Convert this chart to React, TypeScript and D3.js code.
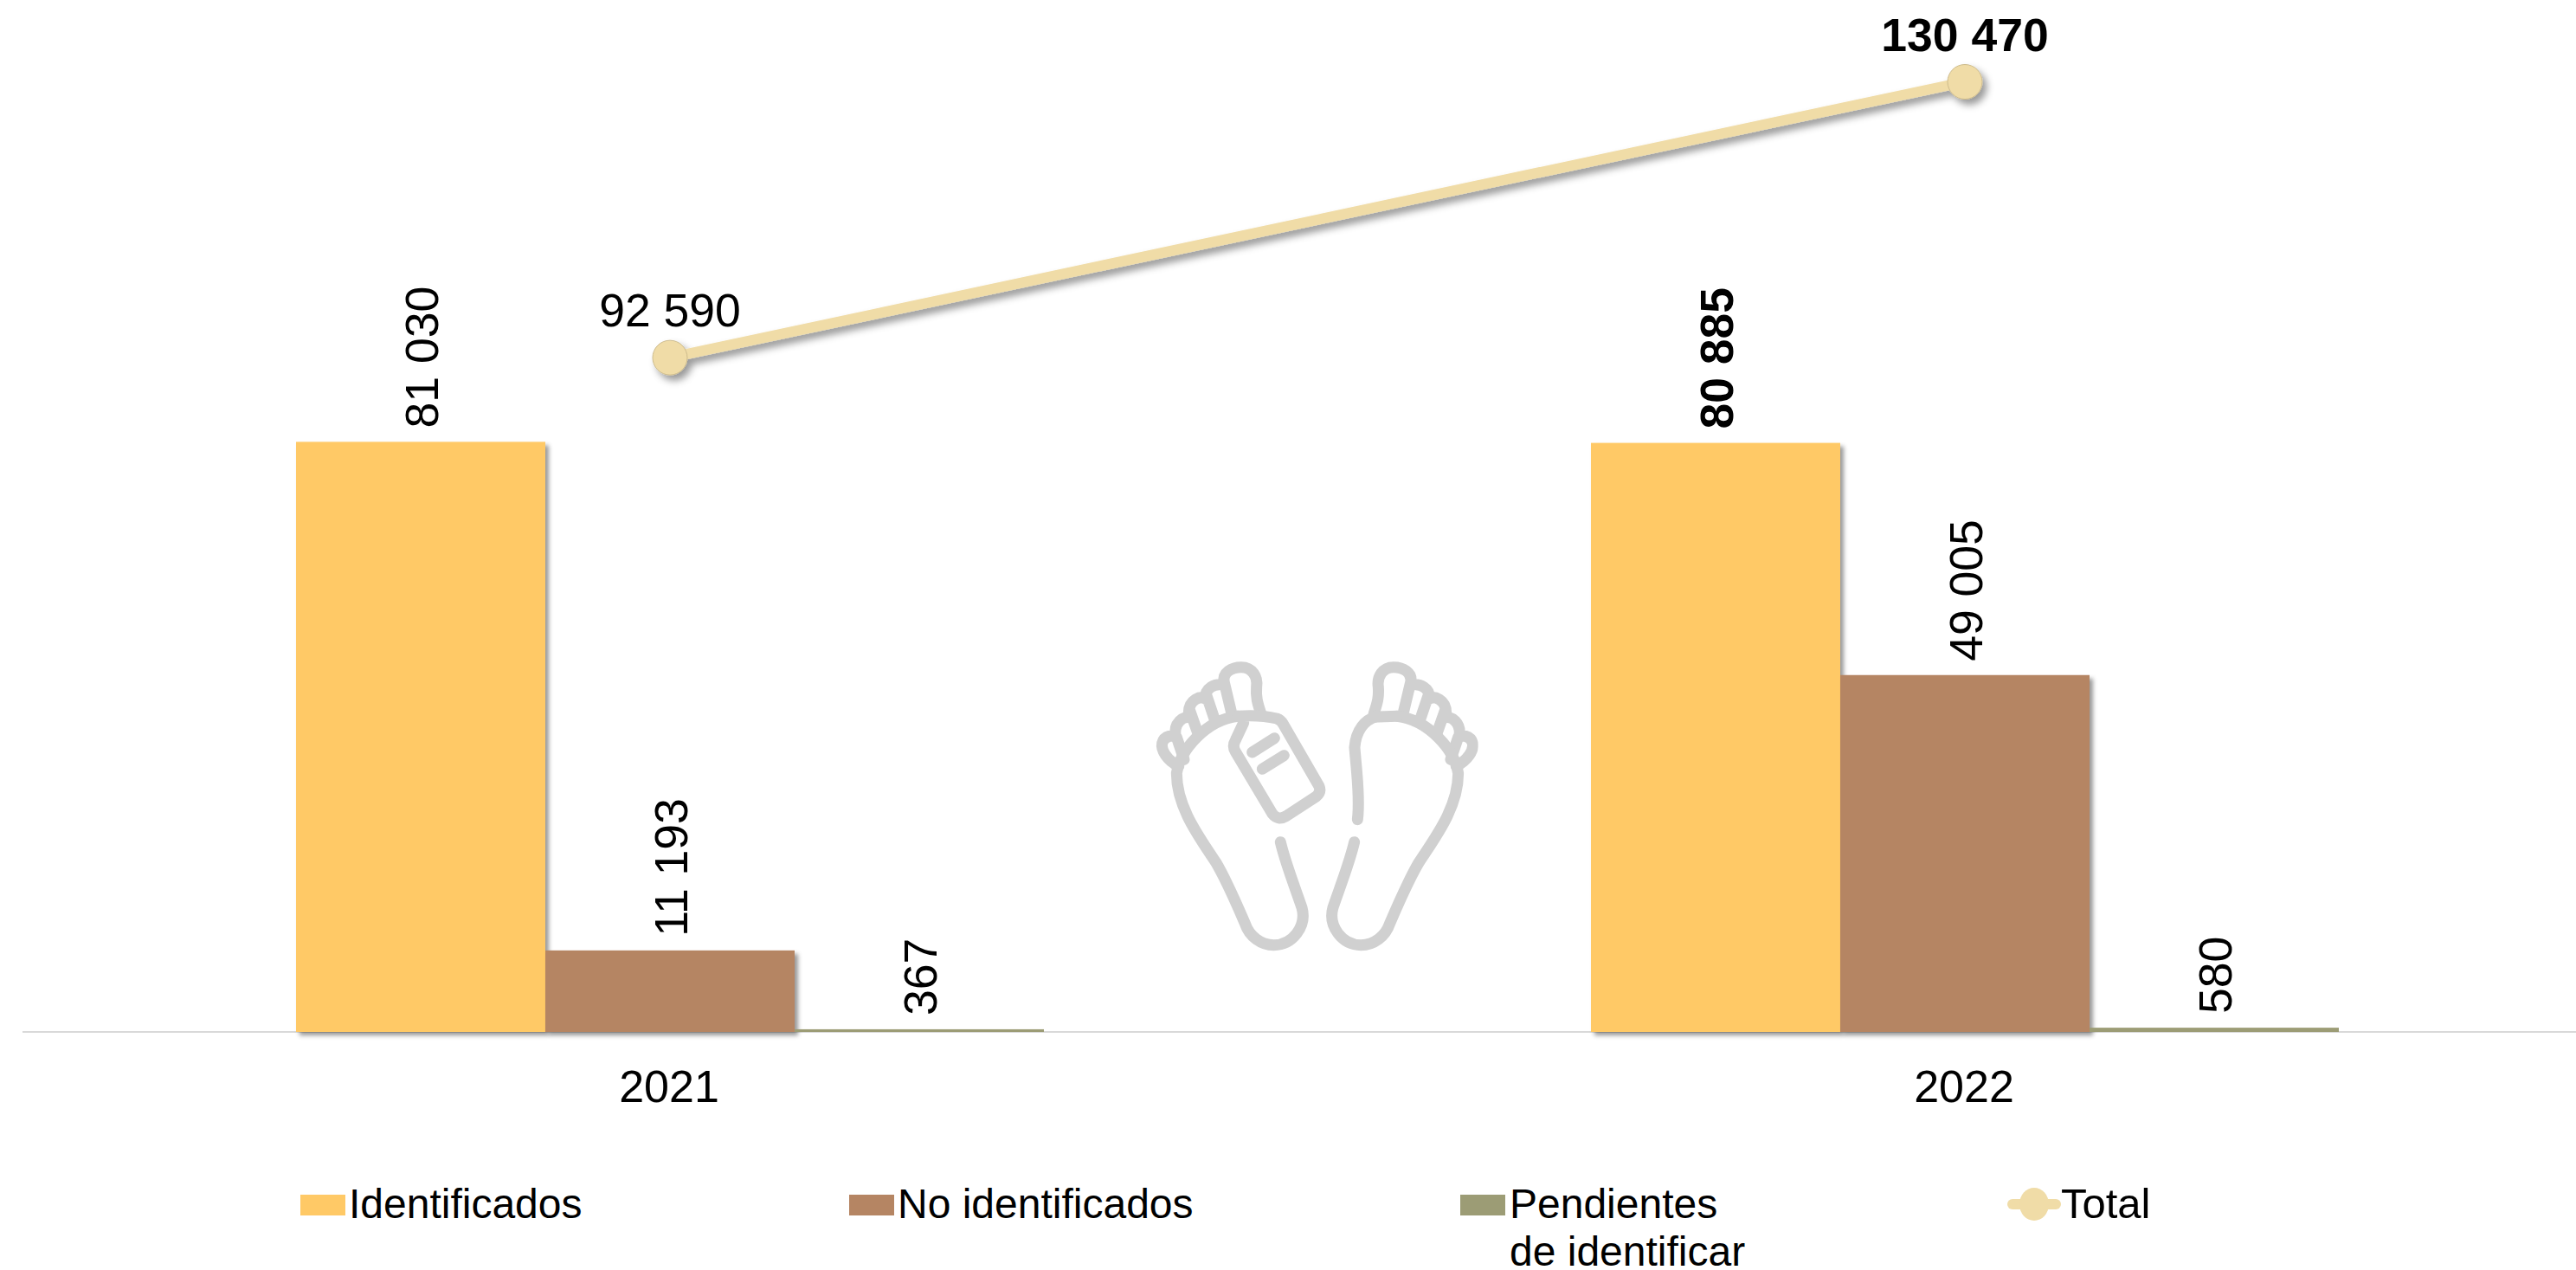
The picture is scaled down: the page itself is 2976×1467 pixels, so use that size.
import React from "react";
import * as d3 from "d3";

const categories = ["2021", "2022"];
const seriesNames = ["Identificados", "No identificados", "Pendientes de identificar"];
const identificados = [81030, 80885];
const noIdentificados = [11193, 49005];
const pendientes = [367, 580];
const total = [92590, 130470];
const seriesValues = [identificados, noIdentificados, pendientes];
const seriesColors = ["#FFC966", "#B58563", "#9C9C75"];
const lineColor = "#F0DCA7";
const boldLabels = ["80885", "130470"];

const W = 2976;
const H = 1467;
const FONT = "'Liberation Sans', Arial, sans-serif";
const fmt = (v: number) => String(v).replace(/\B(?=(\d{3})+$)/g, " ");
const isBold = (v: number) => boldLabels.includes(String(v));

const x0 = d3.scaleBand<string>().domain(categories).range([26, 3018]);
const x1 = d3.scaleBand<string>().domain(seriesNames).range([-432, 432]);
const y = d3.scaleLinear().domain([0, 130470]).range([1192, 94.5]);
const cx = (c: string) => (x0(c) as number) + x0.bandwidth() / 2;

const lineGen = d3
  .line<number>()
  .x((_, i) => cx(categories[i]))
  .y((d) => y(d));

function FeetIcon() {
  const toes =
    "M245 495C205 475 183 440 188 415C195 388 230 385 238 395L264 472" +
    "M235 395C225 345 262 318 288 328" +
    "M283 300L312 382" +
    "M280 310C280 265 320 248 345 262" +
    "M340 245L372 340" +
    "M338 262C335 225 370 205 405 215" +
    "M430 318L403 205C395 170 430 152 462 152C500 152 520 185 515 220C512 260 520 280 530 312";
  const outer =
    "M598 758C615 830 650 920 672 985C690 1050 640 1115 575 1115C530 1115 490 1085 475 1040" +
    "C445 970 410 890 375 830C320 745 238 640 238 520C250 440 340 335 450 322";
  return (
    <g
      transform="translate(1280 720) scale(0.3333)"
      fill="none"
      stroke="#D0D0D0"
      strokeWidth={39}
      strokeLinecap="round"
      strokeLinejoin="round"
      clipPath="url(#iconClip)"
    >
      <path d={toes} />
      <path d={outer} />
      <path d="M450 322C500 318 550 322 585 330Q600 335 608 350L732 565Q740 585 722 600L618 668Q590 685 570 660L442 445Q430 425 442 405L470 345" />
      <path d="M500 447L577 398M535 505L610 458" />
      <g transform="translate(1452 0) scale(-1 1)">
        <path d={toes} />
        <path d={outer} />
        <path d="M587 680C577 600 592 500 597 430C592 370 562 335 520 322" />
        <path d="M450 322L535 325" />
      </g>
    </g>
  );
}

export default function App() {
  const legendY = 1407;
  return (
    <svg
      width={W}
      height={H}
      viewBox={`0 0 ${W} ${H}`}
      style={{ position: "absolute", left: 0, top: 0, background: "#fff", fontFamily: FONT }}
    >
      <defs>
        <filter id="shadow" x="-10%" y="-10%" width="125%" height="125%" filterUnits="objectBoundingBox">
          <feDropShadow dx={4} dy={4} stdDeviation={2.5} floodColor="#000" floodOpacity={0.4} />
        </filter>
        <filter id="lineShadow" filterUnits="userSpaceOnUse" x="0" y="0" width={W} height={H}>
          <feDropShadow dx={5} dy={6} stdDeviation={4.5} floodColor="#000" floodOpacity={0.4} />
        </filter>
        <clipPath id="iconClip">
          <rect x={0} y={0} width={1283} height={1200} />
        </clipPath>
      </defs>

      <FeetIcon />

      <line x1={26} x2={W} y1={y(0)} y2={y(0)} stroke="#D9D9D9" strokeWidth={2} />

      {seriesNames.map((s, si) =>
        categories.map((c, ci) => {
          const v = seriesValues[si][ci];
          const bx = cx(c) + (x1(s) as number);
          const top = y(v);
          const lx = bx + x1.bandwidth() / 2 + 20;
          const ly = top - 16;
          return (
            <g key={s + c}>
              <rect
                x={bx}
                y={top}
                width={x1.bandwidth()}
                height={y(0) - top}
                fill={seriesColors[si]}
                filter={si < 2 ? "url(#shadow)" : undefined}
              />
              <text
                transform={`translate(${lx} ${ly}) rotate(-90)`}
                fontSize={53.5}
                fontWeight={isBold(v) ? 700 : 400}
                fill="#000"
              >
                {fmt(v)}
              </text>
            </g>
          );
        })
      )}

      <g filter="url(#lineShadow)">
        <path d={lineGen(total) as string} fill="none" stroke={lineColor} strokeWidth={12} />
        {total.map((v, i) => (
          <circle key={i} cx={cx(categories[i])} cy={y(v)} r={20} fill={lineColor} stroke="#CDBB8C" strokeWidth={1} />
        ))}
      </g>
      {total.map((v, i) => (
        <text
          key={i}
          x={cx(categories[i])}
          y={y(v) - 36}
          textAnchor="middle"
          fontSize={53.5}
          fontWeight={isBold(v) ? 700 : 400}
          fill="#000"
        >
          {fmt(v)}
        </text>
      ))}

      {categories.map((c) => (
        <text key={c} x={cx(c) - 1} y={1273} textAnchor="middle" fontSize={52} fill="#000">
          {c}
        </text>
      ))}

      <rect x={347} y={1380} width={52} height={24} fill={seriesColors[0]} />
      <text x={403} y={legendY} fontSize={48}>{seriesNames[0]}</text>
      <rect x={981} y={1380} width={52} height={24} fill={seriesColors[1]} />
      <text x={1037} y={legendY} fontSize={48}>{seriesNames[1]}</text>
      <rect x={1687} y={1380} width={52} height={24} fill={seriesColors[2]} />
      <text x={1744} y={legendY} fontSize={48}>Pendientes</text>
      <text x={1744} y={legendY + 55} fontSize={48}>de identificar</text>
      <line x1={2325} x2={2375} y1={1391} y2={1391} stroke={lineColor} strokeWidth={12} strokeLinecap="round" />
      <ellipse cx={2350} cy={1391} rx={17} ry={19} fill={lineColor} />
      <text x={2381} y={legendY} fontSize={49}>{"Total"}</text>
    </svg>
  );
}
